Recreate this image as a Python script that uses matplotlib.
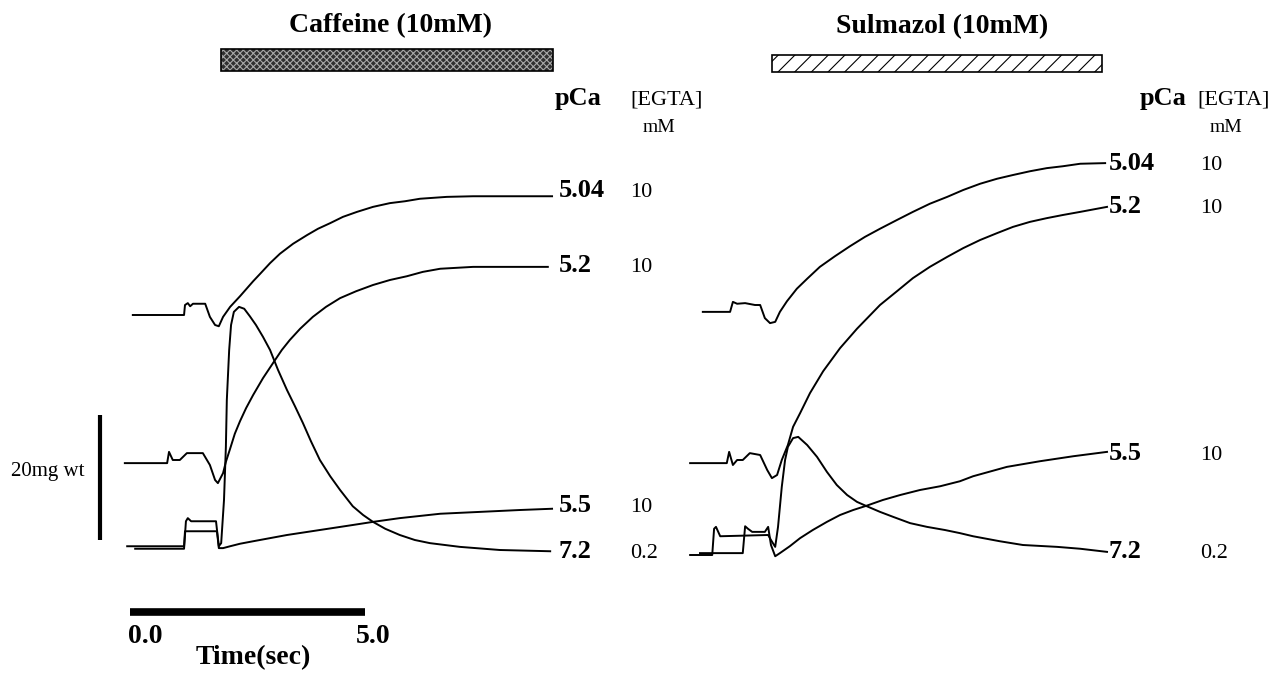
import numpy as np
import matplotlib
matplotlib.use("Agg")
import matplotlib.pyplot as plt
from matplotlib.patches import Rectangle

plt.rcParams['font.family'] = ['Liberation Serif', 'DejaVu Serif']
plt.rcParams['hatch.linewidth'] = 0.8

# traces: time (s), force (mg), stacked offsets included
# --- Caffeine panel ---
caf_504_t = [0.06, 1.15, 1.17, 1.23, 1.28, 1.34, 1.60, 1.70, 1.81, 1.89, 1.98, 2.13, 2.34, 2.62, 2.77,
             2.98, 3.19, 3.47, 3.77, 4.00, 4.26, 4.53, 4.83, 5.17, 5.53, 5.85, 6.17, 6.74, 7.30, 8.02, 8.98]
caf_504_f = [37.6, 37.6, 39.2, 39.5, 39.0, 39.4, 39.4, 37.3, 36.0, 35.8, 37.3, 38.9, 40.6, 43.0, 44.2,
             45.9, 47.4, 49.0, 50.4, 51.4, 52.3, 53.3, 54.1, 54.9, 55.5, 55.8, 56.2, 56.5, 56.6, 56.6, 56.6]

caf_52_t = [-0.11, 0.79, 0.83, 0.91, 1.06, 1.21, 1.55, 1.70, 1.81, 1.87, 1.98, 2.04, 2.13, 2.23, 2.34,
            2.47, 2.62, 2.83, 3.06, 3.23, 3.40, 3.62, 3.89, 4.17, 4.47, 4.81, 5.17, 5.53, 5.89, 6.23,
            6.60, 7.30, 8.02, 8.89]
caf_52_f = [13.9, 13.9, 15.7, 14.4, 14.4, 15.5, 15.5, 13.6, 11.2, 10.7, 12.3, 14.1, 16.2, 18.6, 20.6,
            22.7, 24.8, 27.5, 30.1, 32.0, 33.6, 35.4, 37.3, 38.9, 40.3, 41.4, 42.4, 43.2, 43.8, 44.5,
            45.0, 45.3, 45.3, 45.3]

caf_55_t = [-0.06, 1.15, 1.17, 1.85, 1.89, 1.98, 2.13, 2.34, 2.62, 2.98, 3.34, 4.04, 4.74, 5.17, 5.74,
            6.60, 7.45, 8.30, 8.98]
caf_55_f = [0.6, 0.6, 3.0, 3.0, 0.3, 0.3, 0.6, 1.0, 1.4, 1.9, 2.4, 3.2, 4.0, 4.5, 5.1,
            5.8, 6.1, 6.4, 6.6]

caf_72_t = [0.11, 1.15, 1.19, 1.23, 1.30, 1.83, 1.89, 1.94, 2.00, 2.04, 2.06, 2.11, 2.15, 2.21, 2.32,
            2.43, 2.55, 2.68, 2.83, 2.98, 3.15, 3.34, 3.51, 3.68, 3.85, 4.04, 4.26, 4.47, 4.74, 4.96,
            5.17, 5.43, 5.74, 6.06, 6.38, 7.02, 7.87, 8.94]
caf_72_f = [0.2, 0.2, 4.6, 5.1, 4.6, 4.6, 0.6, 1.1, 8.0, 16.5, 24.0, 32.0, 36.0, 38.1, 38.9,
            38.6, 37.4, 36.0, 34.1, 32.0, 28.8, 25.6, 23.0, 20.3, 17.4, 14.4, 11.8, 9.6, 7.0, 5.6,
            4.5, 3.4, 2.4, 1.6, 1.1, 0.5, 0.0, -0.2]

# --- Sulmazol panel ---
sul_504_t = [0.06, 0.64, 0.70, 0.79, 0.96, 1.17, 1.28, 1.38, 1.49, 1.60, 1.70, 1.85, 2.06, 2.28, 2.55,
             2.87, 3.19, 3.51, 3.83, 4.19, 4.53, 4.89, 5.26, 5.60, 5.96, 6.32, 6.66, 7.02, 7.38, 7.72,
             8.09, 8.62]
sul_504_f = [38.1, 38.1, 39.7, 39.4, 39.5, 39.2, 39.2, 37.1, 36.3, 36.5, 38.1, 39.8, 41.8, 43.4, 45.3,
             47.0, 48.6, 50.1, 51.4, 52.8, 54.1, 55.4, 56.5, 57.6, 58.6, 59.4, 60.0, 60.6, 61.1, 61.4,
             61.8, 61.9]

sul_52_t = [-0.21, 0.57, 0.62, 0.70, 0.79, 0.91, 1.06, 1.28, 1.43, 1.53, 1.64, 1.74, 1.87, 1.98, 2.13,
            2.34, 2.62, 2.98, 3.34, 3.83, 4.19, 4.53, 4.89, 5.26, 5.60, 5.96, 6.32, 6.66, 7.02, 7.38,
            7.72, 8.09, 8.66]
sul_52_f = [13.9, 13.9, 15.7, 13.6, 14.4, 14.4, 15.5, 15.2, 12.8, 11.5, 12.0, 14.4, 16.8, 19.7, 21.9,
            25.1, 28.6, 32.3, 35.4, 39.2, 41.4, 43.5, 45.3, 46.9, 48.3, 49.6, 50.7, 51.7, 52.5, 53.1,
            53.6, 54.1, 54.9]

sul_55_t = [0.0, 0.91, 0.96, 1.02, 1.11, 1.38, 1.45, 1.51, 1.60, 1.70, 1.91, 2.13, 2.40, 2.70, 2.98,
            3.26, 3.55, 3.89, 4.26, 4.68, 5.11, 5.53, 5.81, 6.53, 7.23, 7.94, 8.66]
sul_55_f = [-0.5, -0.5, 3.8, 3.4, 2.9, 2.9, 3.7, 0.8, -1.0, -0.5, 0.6, 1.9, 3.2, 4.5, 5.6,
            6.4, 7.1, 8.0, 8.8, 9.6, 10.2, 11.0, 11.8, 13.3, 14.2, 15.0, 15.7]

sul_72_t = [-0.21, 0.26, 0.30, 0.34, 0.43, 1.45, 1.51, 1.60, 1.66, 1.74, 1.81, 1.87, 1.98, 2.09, 2.28,
            2.49, 2.70, 2.91, 3.13, 3.34, 3.55, 3.83, 4.11, 4.47, 4.83, 5.21, 5.53, 5.81, 6.38, 6.87,
            7.60, 8.09, 8.66]
sul_72_f = [-0.8, -0.8, 3.4, 3.7, 2.2, 2.4, 1.6, 0.5, 3.7, 10.1, 14.4, 16.5, 17.9, 18.1, 16.8,
            14.9, 12.5, 10.4, 8.8, 7.7, 7.0, 6.1, 5.3, 4.3, 3.7, 3.2, 2.7, 2.2, 1.4, 0.8,
            0.5, 0.2, -0.3]

pca_labels = ['5.04', '5.2', '5.5', '7.2']
egta_labels = ['10', '10', '10', '0.2']

W, H = 1275, 677
PX_PER_S, PX_PER_MG = 47.0, 6.25
Y0 = 550  # pixel row of 0 mg


def px(x, y):
    return x / W, 1 - y / H


def panel_axes(fig, x0):
    ax = fig.add_axes([0, 0, 1, 1])
    ax.set_xlim(-x0 / PX_PER_S, (W - x0) / PX_PER_S)
    ax.set_ylim((Y0 - H) / PX_PER_MG, Y0 / PX_PER_MG)
    ax.patch.set_alpha(0)
    ax.axis('off')
    return ax


fig = plt.figure(figsize=(W / 100, H / 100), dpi=100)
ax1 = panel_axes(fig, 130)
ax2 = panel_axes(fig, 700)

lw = 1.4
for t, f in [(caf_504_t, caf_504_f), (caf_52_t, caf_52_f), (caf_55_t, caf_55_f), (caf_72_t, caf_72_f)]:
    ax1.plot(t, f, color='black', lw=lw, solid_joinstyle='round')
for t, f in [(sul_504_t, sul_504_f), (sul_52_t, sul_52_f), (sul_55_t, sul_55_f), (sul_72_t, sul_72_f)]:
    ax2.plot(t, f, color='black', lw=lw, solid_joinstyle='round')

# scale bars (5 s, 20 mg)
ax1.plot([0, 5], [-9.9, -9.9], color='black', lw=5.5, solid_capstyle='butt')
ax1.plot([-0.64, -0.64], [1.6, 21.6], color='black', lw=3, solid_capstyle='butt')

bold = dict(fontweight='bold', color='black')
fig.text(*px(128, 643), '0.0', fontsize=20, ha='left', va='baseline', **bold)
fig.text(*px(390, 643), '5.0', fontsize=20, ha='right', va='baseline', **bold)
fig.text(*px(253, 664), 'Time(sec)', fontsize=20, ha='center', va='baseline', **bold)
fig.text(*px(48, 476), '20mg wt', fontsize=15, ha='center', va='baseline')

# drug application bars
fig.text(*px(390, 32), 'Caffeine (10mM)', fontsize=20, ha='center', va='baseline', **bold)
fig.text(*px(942, 33), 'Sulmazol (10mM)', fontsize=20, ha='center', va='baseline', **bold)

x0, y0 = px(221, 71)
x1, y1 = px(553, 49)
fig.patches.append(Rectangle((x0, y0), x1 - x0, y1 - y0, transform=fig.transFigure,
                             facecolor='#303030', edgecolor='#a8a8a8', hatch='xxxxx', lw=0))
fig.patches.append(Rectangle((x0, y0), x1 - x0, y1 - y0, transform=fig.transFigure,
                             facecolor='none', edgecolor='black', lw=1.2))
x0, y0 = px(772, 72)
x1, y1 = px(1102, 55)
fig.patches.append(Rectangle((x0, y0), x1 - x0, y1 - y0, transform=fig.transFigure,
                             facecolor='white', edgecolor='black', hatch='//', lw=1.2))

# trace labels
for pca_x, egta_x, mm_x in [(555, 630, 643), (1140, 1197, 1210)]:
    fig.text(*px(pca_x, 105), 'pCa', fontsize=19, ha='left', va='baseline', **bold)
    fig.text(*px(egta_x, 105), '[EGTA]', fontsize=16, ha='left', va='baseline')
    fig.text(*px(mm_x, 132), 'mM', fontsize=14, ha='left', va='baseline')

left_rows = [197, 272, 512, 558]
right_rows = [170, 213, 460, 558]
for lab, eg, y in zip(pca_labels, egta_labels, left_rows):
    fig.text(*px(559, y), lab, fontsize=19, ha='left', va='baseline', **bold)
    fig.text(*px(630, y), eg, fontsize=16, ha='left', va='baseline')
for lab, eg, y in zip(pca_labels, egta_labels, right_rows):
    fig.text(*px(1109, y), lab, fontsize=19, ha='left', va='baseline', **bold)
    fig.text(*px(1200, y), eg, fontsize=16, ha='left', va='baseline')

fig.savefig('out.png', dpi=100, facecolor='white')
